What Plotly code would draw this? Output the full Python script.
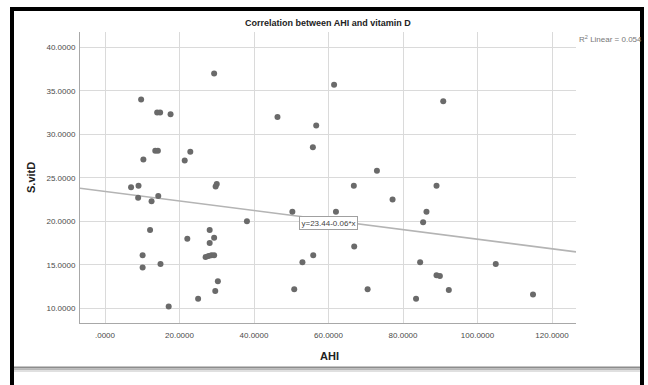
import plotly.graph_objects as go

# ---- data ----
ahi = [29.3, 9.7, 14.0, 14.8, 17.6, 46.3, 13.5, 14.2, 10.3, 22.9,
       21.4, 7.0, 9.0, 8.9, 12.5, 14.3, 29.7, 30.0, 38.1, 12.1,
       28.1, 22.1, 29.3, 28.1, 10.1, 27.0, 27.8, 28.6, 29.3, 10.1,
       14.9, 30.3, 29.6, 25.0, 17.1, 61.5, 56.7, 55.8, 90.8, 73.0,
       66.8, 89.0, 77.2, 50.3, 62.0, 86.3, 85.4, 66.9, 55.9, 53.0,
       84.6, 89.0, 89.9, 50.8, 70.5, 92.3, 83.5, 104.9, 114.9]
vitd = [37.0, 34.0, 32.5, 32.5, 32.3, 32.0, 28.1, 28.1, 27.1, 28.0,
        27.0, 23.9, 24.1, 22.7, 22.3, 22.9, 24.0, 24.3, 20.0, 19.0,
        19.0, 18.0, 18.1, 17.5, 16.1, 15.9, 16.0, 16.1, 16.1, 14.7,
        15.1, 13.1, 12.0, 11.1, 10.2, 35.7, 31.0, 28.5, 33.8, 25.8,
        24.1, 24.1, 22.5, 21.1, 21.1, 21.1, 19.9, 17.1, 16.1, 15.3,
        15.3, 13.8, 13.7, 12.2, 12.2, 12.1, 11.1, 15.1, 11.6]

x_tick_vals = [0, 20, 40, 60, 80, 100, 120]
x_tick_text = [".0000", "20.0000", "40.0000", "60.0000", "80.0000", "100.0000", "120.0000"]
y_tick_vals = [10, 15, 20, 25, 30, 35, 40]
y_tick_text = ["10.0000", "15.0000", "20.0000", "25.0000", "30.0000", "35.0000", "40.0000"]

fit_intercept = 23.44
fit_slope = -0.055
fit_label = "y=23.44-0.06*x"
r2_label = "R<sup>2</sup> Linear = 0.054"

title_text = "Correlation between AHI and vitamin D"
x_title = "AHI"
y_title = "S.vitD"

# ---- layout geometry ----
W, H = 648, 385
L, R, T, B = 80, 72, 32, 62
PW, PH = W - L - R, H - T - B
x_range = [-6.71, 126.44]
y_range = [8.31, 41.76]


def pxx(px):
    return (px - L) / PW


def pxy(py):
    return (H - B - py) / PH


FONT = "Liberation Sans, Arial, sans-serif"

fig = go.Figure()

# regression line across the full axis range
fig.add_trace(go.Scatter(
    x=x_range,
    y=[fit_intercept + fit_slope * v for v in x_range],
    mode="lines",
    line=dict(color="#b4b4b4", width=1.6),
    hoverinfo="skip",
    showlegend=False,
))

fig.add_trace(go.Scatter(
    x=ahi, y=vitd, mode="markers",
    marker=dict(color="#6a6a6a", size=6, line=dict(width=0)),
    showlegend=False,
))

axis_common = dict(
    showgrid=True, gridcolor="#dadada", gridwidth=1,
    zeroline=False, showline=True, linecolor="#a8a8a8", linewidth=1,
    ticks="", tickfont=dict(family=FONT, size=8, color="#4a4a4a"),
    mirror=False,
)

fig.update_layout(
    width=W, height=H,
    margin=dict(l=L, r=R, t=T, b=B, pad=0),
    paper_bgcolor="white", plot_bgcolor="white",
    xaxis=dict(range=x_range, tickvals=x_tick_vals, ticktext=x_tick_text,
               ticklabelstandoff=4, **axis_common),
    yaxis=dict(range=y_range, tickvals=y_tick_vals, ticktext=y_tick_text,
               ticklabelstandoff=2, **axis_common),
    showlegend=False,
)

annotations = [
    dict(text="<b>" + title_text + "</b>", xref="paper", yref="paper",
         x=0.5, y=pxy(23), xanchor="center", yanchor="middle", showarrow=False,
         font=dict(family=FONT, size=9, color="#222222")),
    dict(text="<b>" + x_title + "</b>", xref="paper", yref="paper",
         x=pxx(329), y=pxy(356), xanchor="center", yanchor="middle", showarrow=False,
         font=dict(family=FONT, size=11, color="#222222")),
    dict(text="<b>" + y_title + "</b>", xref="paper", yref="paper",
         x=pxx(31), y=pxy(178), xanchor="center", yanchor="middle", showarrow=False,
         textangle=-90, font=dict(family=FONT, size=11, color="#222222")),
    dict(text=r2_label, xref="paper", yref="paper",
         x=pxx(577), y=pxy(39), xanchor="left", yanchor="middle", showarrow=False,
         font=dict(family=FONT, size=8, color="#777777")),
    dict(text=fit_label, xref="x", yref="y",
         x=60.0, y=19.85, xanchor="center", yanchor="middle", showarrow=False,
         bgcolor="white", bordercolor="#a0a0a0", borderwidth=1, borderpad=1.5,
         font=dict(family=FONT, size=8, color="#444444")),
]
fig.update_layout(annotations=annotations)

shapes = []


def rect(x0, y0, x1, y1, color):
    shapes.append(dict(type="rect", xref="paper", yref="paper",
                       x0=pxx(x0), x1=pxx(x1), y0=pxy(y1), y1=pxy(y0),
                       fillcolor=color, line=dict(width=0), layer="above"))


# outer black frame
rect(10, 7, 644, 11, "black")
rect(10, 7, 14, 386, "black")
rect(640, 7, 644, 386, "black")
# gray separator with shadow at the bottom
rect(14, 366.5, 640, 368.5, "#8c8c8c")
rect(14, 368.5, 640, 370, "#b8b8b8")
rect(14, 370, 640, 372, "#e0e0e0")

fig.update_layout(shapes=shapes)

fig.write_html("out.html")
